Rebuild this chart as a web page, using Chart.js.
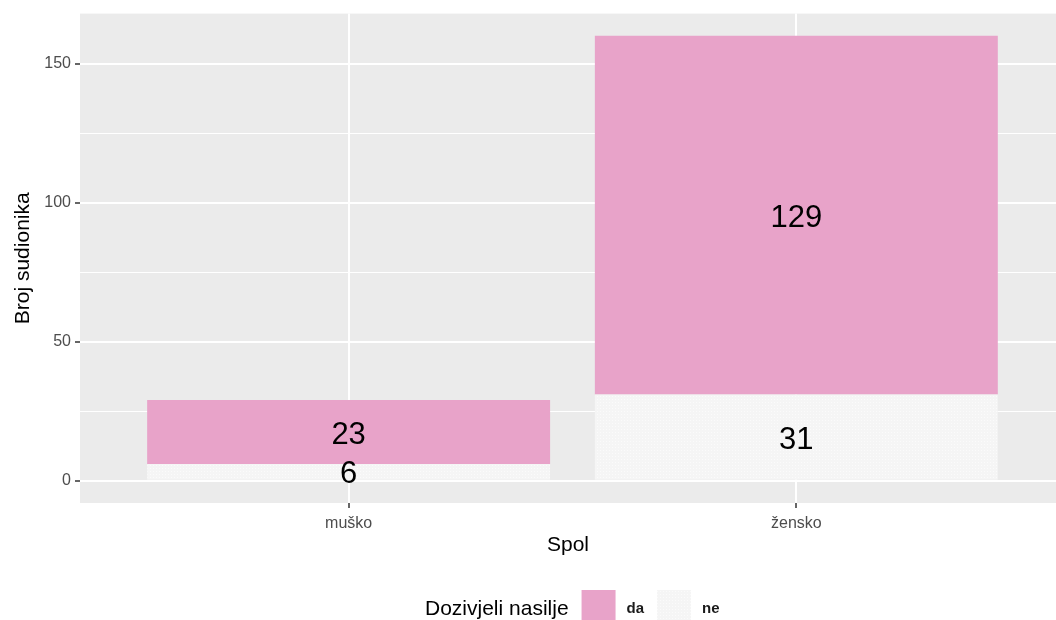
<!DOCTYPE html>
<html>
<head>
<meta charset="utf-8">
<script src="https://cdn.jsdelivr.net/npm/chart.js@4.4.1/dist/chart.umd.min.js"></script>
<style>
  html, body { margin: 0; padding: 0; background: #fff; overflow: hidden; }
  canvas { display: block; }
</style>
</head>
<body>
<canvas id="chart" width="1056" height="620"></canvas>
<script>
    "use strict";

    // Data
    var categories = ["muško", "žensko"];
    var daValues = [23, 129];
    var neValues = [6, 31];
    var yTicks = [0, 50, 100, 150];
    var yMinorTicks = [25, 75, 125];
    var legendTitle = "Dozivjeli nasilje";

    var FONT = "'Liberation Sans', Arial, sans-serif";
    var PINK = "#E8A3C9";

    // dotted light fill like the reference "ne" bars
    var neFill = (function () {
        var c = document.createElement("canvas");
        c.width = 3; c.height = 3;
        var g = c.getContext("2d");
        g.fillStyle = "#F5F5F5";
        g.fillRect(0, 0, 3, 3);
        g.fillStyle = "#FBFBFB";
        g.fillRect(0, 0, 1, 1);
        return g.createPattern(c, "repeat");
    })();

    function toPoints(values) {
        return values.map(function (v, i) { return { x: i + 1, y: v }; });
    }

    // Panel background
    var panelBg = {
        id: "panelBg",
        beforeDraw: function (chart) {
            var a = chart.chartArea, ctx = chart.ctx;
            ctx.save();
            ctx.fillStyle = "#EBEBEB";
            ctx.fillRect(a.left, a.top, a.right - a.left, a.bottom - a.top);
            ctx.restore();
        }
    };

    // Value labels in the middle of each segment
    var barLabels = {
        id: "barLabels",
        afterDatasetsDraw: function (chart) {
            var ctx = chart.ctx;
            ctx.save();
            ctx.font = "31px " + FONT;
            ctx.fillStyle = "#000";
            ctx.textAlign = "center";
            ctx.textBaseline = "middle";
            chart.data.datasets.forEach(function (ds, di) {
                chart.getDatasetMeta(di).data.forEach(function (el, i) {
                    ctx.fillText(String(ds.data[i].y), el.x, (el.y + el.base) / 2 + 3);
                });
            });
            ctx.restore();
        }
    };

    // ggplot-like legend at the bottom
    var bottomLegend = {
        id: "bottomLegend",
        afterDraw: function (chart) {
            var ctx = chart.ctx;
            var x = 425, cy = 609, key = 34;
            ctx.save();
            ctx.textBaseline = "middle";
            ctx.font = "21px " + FONT;
            ctx.fillStyle = "#000";
            ctx.fillText(legendTitle, x, cy);
            x += ctx.measureText(legendTitle).width + 13;
            var order = chart.data.datasets.slice().reverse();
            order.forEach(function (ds) {
                ctx.fillStyle = ds.backgroundColor;
                ctx.fillRect(x, 590, key, key);
                x += key + 11;
                ctx.font = "bold 15px " + FONT;
                ctx.fillStyle = "#1A1A1A";
                ctx.fillText(ds.label, x, cy);
                x += ctx.measureText(ds.label).width + 13;
            });
            ctx.restore();
        }
    };

    new Chart(document.getElementById("chart"), {
        type: "bar",
        data: {
            datasets: [
                {
                    label: "ne",
                    data: toPoints(neValues),
                    backgroundColor: neFill,
                    borderWidth: 0
                },
                {
                    label: "da",
                    data: toPoints(daValues),
                    backgroundColor: PINK,
                    borderWidth: 0
                }
            ]
        },
        options: {
            responsive: false,
            animation: false,
            categoryPercentage: 0.9,
            barPercentage: 1,
            layout: { padding: { top: 12, right: 0, bottom: 61, left: 0 } },
            plugins: {
                legend: { display: false },
                tooltip: { enabled: false }
            },
            scales: {
                x: {
                    type: "linear",
                    stacked: true,
                    offset: false,
                    min: 0.4,
                    max: 2.58,
                    afterBuildTicks: function (scale) {
                        scale.ticks = categories.map(function (c, i) { return { value: i + 1 }; });
                    },
                    afterFit: function (scale) { scale.height = 56; },
                    ticks: {
                        autoSkip: false,
                        maxRotation: 0,
                        padding: 6,
                        color: "#4D4D4D",
                        font: { family: FONT, size: 16 },
                        callback: function (v) { return categories[v - 1]; }
                    },
                    grid: {
                        offset: false,
                        color: "#FFFFFF",
                        lineWidth: 2,
                        tickColor: "#333333",
                        tickLength: 5,
                        tickWidth: 1.5
                    },
                    border: { display: false },
                    title: {
                        display: true,
                        text: "Spol",
                        color: "#000",
                        font: { family: FONT, size: 21 },
                        padding: { top: 0, bottom: 1 }
                    }
                },
                y: {
                    stacked: true,
                    min: -8,
                    max: 168,
                    afterBuildTicks: function (scale) {
                        scale.ticks = yTicks.concat(yMinorTicks)
                            .sort(function (a, b) { return a - b; })
                            .map(function (v) { return { value: v }; });
                    },
                    afterFit: function (scale) { scale.width = 80; },
                    ticks: {
                        padding: 4,
                        color: "#4D4D4D",
                        font: { family: FONT, size: 16 },
                        callback: function (v) { return yTicks.indexOf(v) >= 0 ? String(v) : ""; }
                    },
                    grid: {
                        color: "#FFFFFF",
                        lineWidth: function (c) { return c.tick && yTicks.indexOf(c.tick.value) >= 0 ? 2 : 1; },
                        tickColor: function (c) { return c.tick && yTicks.indexOf(c.tick.value) >= 0 ? "#333333" : "rgba(0,0,0,0)"; },
                        tickLength: 5,
                        tickWidth: 1.5
                    },
                    border: { display: false },
                    title: {
                        display: true,
                        text: "Broj sudionika",
                        color: "#000",
                        font: { family: FONT, size: 21 },
                        padding: { top: 11, bottom: 0 }
                    }
                }
            }
        },
        plugins: [panelBg, barLabels, bottomLegend]
    });
</script>
</body>
</html>
